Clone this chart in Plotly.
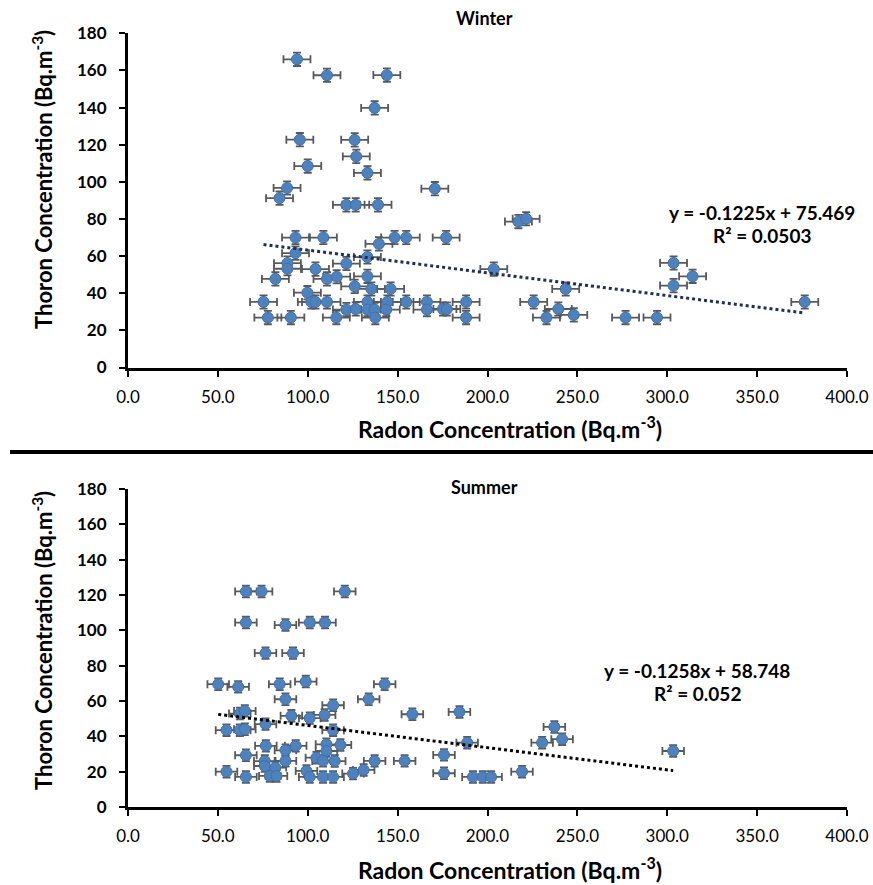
import plotly.graph_objects as go

# ---------------- data ----------------
winter_radon = [94.0, 110.7, 144.0, 137.2, 95.6, 126.1, 127.0, 100.0, 133.2, 88.5,
                170.7, 84.3, 121.5, 126.7, 139.1, 217.2, 221.5, 93.2, 108.7, 148.3,
                154.8, 177.0, 139.6, 93.2, 133.2, 121.5, 88.7, 88.7, 104.3, 203.5,
                303.5, 82.0, 110.7, 116.1, 133.2, 314.1, 126.1, 135.4, 146.1, 243.5,
                303.5, 99.8, 75.4, 102.0, 104.3, 110.7, 133.2, 144.3, 154.8, 166.3,
                188.1, 225.7, 376.5, 121.5, 126.7, 133.2, 137.2, 143.7, 166.3, 175.2,
                177.4, 239.4, 77.8, 90.6, 115.9, 137.6, 188.1, 232.8, 248.0, 276.8,
                294.3]
winter_thoron = [166.0, 157.4, 157.5, 139.8, 122.7, 122.6, 113.7, 108.5, 104.8, 96.7,
                 96.3, 91.2, 87.6, 87.6, 87.6, 78.6, 80.1, 70.0, 70.0, 70.0,
                 70.0, 70.0, 66.6, 61.6, 59.5, 56.0, 56.2, 53.2, 53.0, 53.0,
                 56.3, 47.7, 47.7, 48.9, 49.1, 49.1, 43.7, 42.3, 42.3, 42.3,
                 44.1, 40.3, 35.3, 35.3, 35.3, 35.3, 35.3, 35.3, 35.3, 35.3,
                 35.3, 35.3, 35.3, 31.2, 31.5, 31.2, 31.2, 31.2, 31.2, 31.5,
                 31.5, 31.5, 26.9, 26.9, 26.9, 26.9, 26.9, 26.9, 28.3, 26.9,
                 26.9]

summer_radon = [65.6, 74.3, 120.6, 65.6, 87.6, 101.1, 109.6, 76.5, 91.8, 50.2,
                61.3, 84.4, 98.9, 142.8, 87.6, 133.9, 114.1, 62.2, 65.0, 76.5,
                90.9, 101.1, 109.4, 158.2, 184.4, 54.8, 62.2, 65.0, 114.1, 237.2,
                76.7, 87.6, 93.3, 110.4, 110.4, 118.2, 188.7, 230.4, 241.5, 65.6,
                175.8, 303.3, 76.1, 76.1, 82.0, 87.6, 104.8, 108.5, 115.0, 137.2,
                153.9, 54.8, 65.6, 78.9, 82.6, 99.3, 101.1, 108.5, 114.1, 125.2,
                131.1, 175.8, 191.9, 197.4, 202.0, 219.2]
summer_thoron = [122.0, 122.0, 122.0, 104.4, 103.0, 104.4, 104.4, 87.1, 87.1, 69.5,
                 68.0, 69.5, 71.0, 69.5, 61.0, 61.0, 57.6, 52.9, 54.4, 46.9,
                 51.6, 50.3, 52.1, 52.5, 53.8, 43.5, 43.5, 44.0, 43.5, 45.3,
                 34.6, 32.1, 34.6, 35.5, 31.7, 35.1, 36.4, 36.4, 38.4, 29.3,
                 29.5, 31.7, 26.0, 23.2, 22.3, 26.1, 27.9, 26.1, 26.0, 26.1,
                 26.1, 20.0, 17.0, 17.6, 17.6, 20.4, 17.0, 17.0, 17.0, 18.9,
                 21.0, 19.1, 17.0, 17.0, 17.0, 20.0]

winter_err = (7.5, 3.6)   # (radon, thoron)
summer_err = (6.0, 3.3)

winter_fit = (-0.1225, 75.469, 0.0503)
summer_fit = (-0.1258, 58.748, 0.052)

x_ticks = [0, 50, 100, 150, 200, 250, 300, 350, 400]
y_ticks = [0, 20, 40, 60, 80, 100, 120, 140, 160, 180]

# ---------------- figure ----------------
W, H = 873, 885
L, R = 128, 26
PW = W - L - R
FONT = "Lato"
MARK = "#4F81BD"
ERR = "#595959"

fig = go.Figure()

def add_panel(xs, ys, err, fit, xa, ya, line_color):
    fig.add_trace(go.Scatter(
        x=xs, y=ys, mode="markers", xaxis=xa, yaxis=ya,
        marker=dict(symbol="circle", size=11, color=MARK, line=dict(color="#3f70aa", width=1)),
        error_x=dict(type="constant", value=err[0], color=ERR, thickness=1.8, width=4),
        error_y=dict(type="constant", value=err[1], color=ERR, thickness=1.8, width=4),
        showlegend=False, hoverinfo="x+y"))
    x0, x1 = min(xs), max(xs)
    m, b, _ = fit
    fig.add_trace(go.Scatter(
        x=[x0, x1], y=[m * x0 + b, m * x1 + b], mode="lines", xaxis=xa, yaxis=ya,
        line=dict(color=line_color, width=3, dash="dot"), showlegend=False, hoverinfo="skip"))

add_panel(winter_radon, winter_thoron, winter_err, winter_fit, "x", "y", "#1f2f57")
add_panel(summer_radon, summer_thoron, summer_err, summer_fit, "x2", "y2", "#000000")

def py(px):
    return 1 - px / H

def pxx(px):
    return (px - L) / PW

xaxis_common = dict(
    range=[0, 400], tickvals=x_ticks, ticktext=[f"{v:.1f}" for v in x_ticks],
    showline=True, linecolor="black", linewidth=3, ticks="outside", ticklen=6,
    tickwidth=2, tickcolor="black", showgrid=False, zeroline=False,
    tickfont=dict(family=FONT, size=17, color="black"), ticklabelstandoff=6,
    domain=[0, 1], fixedrange=True, automargin=False)
yaxis_common = dict(
    range=[0, 180], tickvals=y_ticks, ticktext=[f"<b>{v}</b>" for v in y_ticks],
    showline=True, linecolor="black", linewidth=3, ticks="outside", ticklen=6,
    tickwidth=2, tickcolor="black", showgrid=False, zeroline=False,
    tickfont=dict(family=FONT, size=17, color="black"), ticklabelstandoff=9,
    fixedrange=True, automargin=False)

fig.update_layout(
    width=W, height=H,
    margin=dict(l=L, r=R, t=0, b=0, autoexpand=False),
    paper_bgcolor="white", plot_bgcolor="white",
    font=dict(family=FONT, color="black"),
    xaxis=dict(**xaxis_common, anchor="y"),
    yaxis=dict(**yaxis_common, anchor="x", domain=[py(367.5), py(33.3)]),
    xaxis2=dict(**xaxis_common, anchor="y2"),
    yaxis2=dict(**yaxis_common, anchor="x2", domain=[py(807), py(489)]),
)

ann = []
def add_text(text, x_px, y_px, size, angle=0):
    ann.append(dict(text=text, x=pxx(x_px), xref="paper", y=py(y_px), yref="paper",
                    xanchor="center", yanchor="middle", showarrow=False, textangle=angle,
                    font=dict(family=FONT, size=size, color="black")))

add_text("<b>Winter</b>", 484, 18, 18)
add_text("<b>Summer</b>", 484, 487, 18)

xtitle = "<b>Radon Concentration (Bq.m<sup>-3</sup>)</b>"
ytitle = "<b>Thoron Concentration (Bq.m<sup>-3</sup>)</b>"
add_text(xtitle, 510, 427, 23)
add_text(xtitle, 510, 868, 23)
add_text(ytitle, 42, 180, 22, -90)
add_text(ytitle, 42, 641, 22, -90)

def fit_text(fit, xc_px, y1_px, y2_px):
    m, b, r2 = fit
    add_text(f"<b>y = {m}x + {b}</b>", xc_px, y1_px, 19)
    add_text(f"<b>R² = {r2}</b>", xc_px, y2_px, 19)

fit_text(winter_fit, 762, 213, 235)
fit_text(summer_fit, 697, 670, 693)

fig.update_layout(annotations=ann)

fig.add_shape(type="line", xref="paper", yref="paper",
              x0=pxx(10), x1=pxx(873), y0=py(452), y1=py(452),
              line=dict(color="black", width=4))

fig.write_html("out.html")
